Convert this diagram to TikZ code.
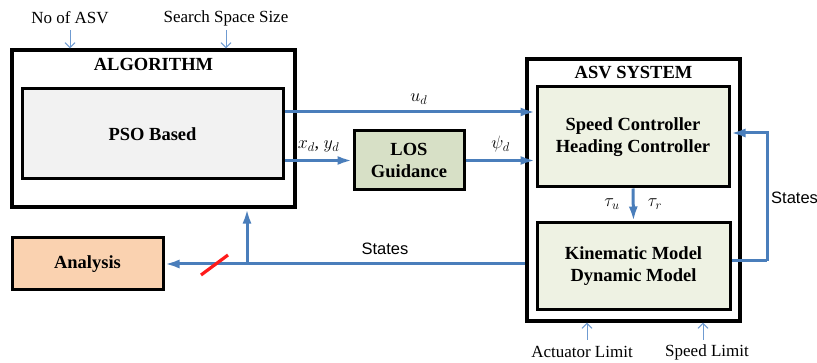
\documentclass[tikz,border=0pt]{standalone}
\usepackage{fix-cm}
\usepackage{fontspec}
\setmainfont{Liberation Serif}
\newfontfamily\labelsans{Liberation Sans}
\usetikzlibrary{arrows.meta,calc}

\definecolor{flowblue}{HTML}{4A7EBB}
\definecolor{hintblue}{HTML}{6F9BD1}
\definecolor{psogrey}{HTML}{F2F2F2}
\definecolor{losgreen}{HTML}{D7E0C6}
\definecolor{ctrlgreen}{HTML}{EEF2E3}
\definecolor{anaorange}{HTML}{FAD2B0}
\definecolor{slashred}{HTML}{FF1A1A}

\begin{document}
\begin{tikzpicture}[x=1pt,y=-1pt,
  frame/.style={draw=black, line width=3.2pt, fill=white, inner sep=0pt},
  blockbox/.style={draw=black, line width=3pt, inner sep=0pt, align=center,
    font=\fontsize{18.5}{22}\selectfont\bfseries},
  titletext/.style={font=\fontsize{18.5}{22}\selectfont\bfseries, inner sep=0pt},
  flow/.style={draw=flowblue, line width=3pt, -{Latex[length=15pt,width=9pt]}},
  flowline/.style={draw=flowblue, line width=3pt},
  hint/.style={draw=hintblue, line width=1pt, -{Straight Barb[length=5pt,width=10pt]}},
  hinttext/.style={font=\fontsize{17}{20}\selectfont, inner sep=0pt},
  sig/.style={font=\fontsize{18}{21}\selectfont, inner sep=0pt},
  sanslabel/.style={font=\labelsans\fontsize{16.5}{19}\selectfont, inner sep=0pt}
]
\useasboundingbox (0,0) rectangle (817,363);

% outer frames
\node[frame, minimum width=283pt, minimum height=157pt] (alg) at (153.5,128.5) {};
\node[frame, minimum width=213pt, minimum height=262pt] (asv) at (633.5,190) {};
\node[titletext] (algtitle) at (153.5,64) {ALGORITHM};
\node[titletext] (asvtitle) at (633.5,73) {ASV SYSTEM};

% blocks
\node[blockbox, fill=psogrey, minimum width=261pt, minimum height=90pt] (pso) at (152.5,134) {PSO Based};
\node[blockbox, fill=losgreen, minimum width=110pt, minimum height=59pt] (los) at (409,160.5) {LOS\\Guidance};
\node[blockbox, fill=ctrlgreen, minimum width=192pt, minimum height=100pt] (speed) at (633,137) {Speed Controller\\Heading Controller};
\node[blockbox, fill=ctrlgreen, minimum width=193pt, minimum height=87pt] (kin) at (633.5,266.5) {Kinematic Model\\Dynamic Model};
\node[blockbox, fill=anaorange, minimum width=151pt, minimum height=52pt] (ana) at (87.5,264) {Analysis};

% signal flow
\draw[flow] (pso.east |- 0,112) -- (speed.west |- 0,112)
  node[sig, pos=0.535, above=6pt] (ud) {$u_d$};
\draw[flow] (pso.east |- los.west) -- (los.west)
  node[sig, midway, above=7pt] (xy) {$x_d$, $y_d$};
\draw[flow] (los.east) -- (speed.west |- los.east)
  node[sig, midway, above=7pt] (psi) {$\psi_d$};
\draw[flow] (speed.south) -- (kin.north);
\node[sig] (tauu) at (612,204) {$\tau_u$};
\node[sig] (taur) at (655,204) {$\tau_r$};

% state feedback to the controllers
\coordinate (fbr) at (767,261);
\draw[flowline] (kin.east |- fbr) -- (fbr);
\draw[flow] (fbr) |- (speed.east |- 0,133);
\node[sanslabel, anchor=west] (statesr) at (771,198) {States};

% state output to the analysis and back to the algorithm
\coordinate (br) at (247,264);
\draw[flow] (asv.west |- br) -- (ana.east);
\draw[flow] (br) -- (br |- alg.south);
\node[sanslabel] (statesb) at (385,249) {States};
\draw[slashred, line width=3.2pt] (201,275) -- (228,255);

% parameters and limits
\node[hinttext] (nasv) at (70,18) {No of ASV};
\node[hinttext] (sss) at (226,18) {Search Space Size};
\coordinate (nasvtip) at (70,30);
\coordinate (ssstip) at (226,30);
\draw[hint] (nasvtip) -- (alg.north -| nasvtip);
\draw[hint] (ssstip) -- (alg.north -| ssstip);
\node[hinttext] (act) at (582,352) {Actuator Limit};
\node[hinttext] (spl) at (707,352) {Speed Limit};
\coordinate (acttail) at (587,340);
\coordinate (spltail) at (703,340);
\draw[hint] (acttail) -- (asv.south -| acttail);
\draw[hint] (spltail) -- (asv.south -| spltail);
\end{tikzpicture}
\end{document}
